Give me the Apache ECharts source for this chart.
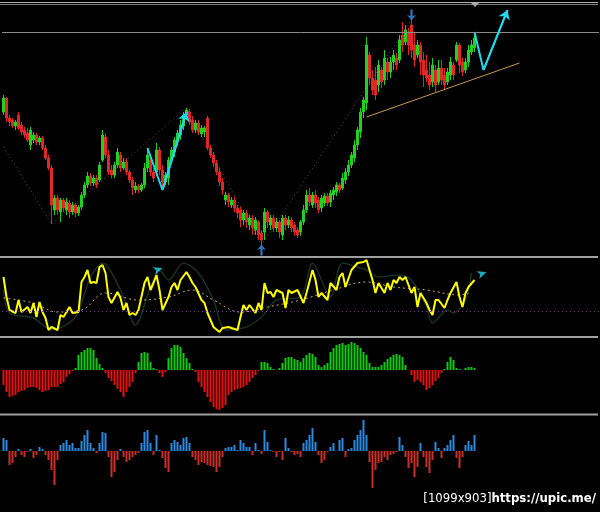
<!DOCTYPE html>
<html><head><meta charset="utf-8">
<script src="https://cdn.jsdelivr.net/npm/echarts@6/dist/echarts.min.js"></script>
<style>html,body{margin:0;padding:0;background:#000}#c{width:600px;height:512px}</style>
</head><body><div id="c"></div>
<script>
// ---------- DATA ----------
const categories = Array.from({length: 199}, (_, i) => String(i));

const open = [
 143,157,137,135,129,140,130,125,122,110,
 115,120,113,117,107,97,87,45,57,43,
 55,45,52,43,50,42,48,60,70,79,
 72,77,75,95,118,100,85,80,90,100,
 87,93,83,75,65,69,65,70,87,95,
 83,83,105,85,73,77,95,103,113,120,
 129,140,143,135,125,132,121,123,137,107,
 100,92,83,73,55,60,50,55,47,45,
 35,42,30,37,25,33,22,23,43,30,
 37,27,33,20,37,30,35,30,25,23,
 33,45,60,50,60,55,47,52,59,53,
 60,63,70,67,75,83,90,97,110,123,
 143,152,200,177,175,170,185,175,193,183,
 193,197,195,220,213,223,230,210,200,210,
 195,185,180,173,185,173,187,180,173,180,
 190,195,210,193,185,193,203,207];
const close = [
 157,137,133,129,133,127,123,120,115,125,
 120,113,117,107,97,87,50,57,45,55,
 47,53,43,50,42,48,60,70,79,72,
 77,70,90,120,100,83,80,90,103,87,
 93,83,75,67,69,65,70,87,100,83,
 77,105,85,73,80,95,105,115,122,130,
 140,145,133,125,132,123,127,127,107,100,
 92,83,73,65,60,53,55,47,42,35,
 42,33,37,27,35,20,15,43,33,37,
 27,33,23,37,30,35,27,23,20,33,
 45,60,53,60,52,45,57,59,52,62,
 65,70,65,77,83,90,100,110,125,143,
 155,210,177,165,160,190,173,197,183,193,
 200,190,215,210,225,210,205,195,210,193,
 180,177,170,190,170,187,175,170,183,193,
 180,210,190,183,193,205,210,217];
const low = [
 140,133,129,127,125,125,120,117,113,105,
 112,110,110,105,95,85,31,40,40,33,
 43,40,37,40,38,39,45,57,67,69,
 69,67,73,93,97,80,77,77,87,83,
 85,80,72,60,62,62,63,67,83,79,
 73,79,80,65,70,70,92,98,109,115,
 125,137,130,122,122,120,118,118,105,97,
 88,80,69,60,50,48,47,43,37,28,
 30,27,25,20,20,15,10,15,27,25,
 23,23,17,15,25,27,23,19,17,19,
 30,42,49,47,47,42,43,49,49,48,
 55,59,62,65,71,79,87,93,105,117,
 137,145,170,160,155,163,167,170,175,177,
 185,185,192,203,210,200,197,188,197,180,
 168,173,165,168,163,170,170,165,170,175,
 175,193,182,179,182,188,200,203];
const high = [
 160,158,140,137,135,143,133,128,127,128,
 123,122,119,119,110,100,90,60,60,57,
 57,57,55,53,52,50,63,73,83,82,
 80,80,93,125,122,105,90,93,107,103,
 97,97,85,78,73,71,72,92,105,98,
 87,112,108,90,83,98,108,118,125,135,
 143,147,146,139,135,135,130,129,139,110,
 103,95,87,77,63,62,58,58,50,48,
 45,45,40,40,38,35,25,47,45,40,
 40,37,35,40,40,39,38,33,28,35,
 50,65,67,63,65,58,60,62,62,65,
 68,73,72,82,87,95,103,115,128,147,
 158,218,203,185,188,195,188,205,197,198,
 205,202,220,233,230,227,235,222,215,213,
 203,200,193,197,190,195,195,187,187,198,
 193,213,212,197,197,210,215,223];

const priceLine = 223;
const zigzag = [[0,108],[16,31],[61,147],[86,10],[136,235]];
const arrow1 = [[48,107],[53,65],[61,143]];
const arrow2 = [[157,223],[160,185],[168,245]];
const trendLine = [[121,138],[172,192]];
const upSignals = [[86,5]];
const downSignals = [[136,240]];

const oscYellow = [[0,59],[1,39],[2,26],[4,23],[5,36],[6,24],[8,29],[9,23],[10,33],[11,19],[12,34],[13,24],[14,18],[15,6],[16,9],[18,6],[19,21],[20,19],[21,24],[22,29],[23,23],[25,24],[26,54],[27,59],[28,66],[29,53],[30,54],[31,53],[32,69],[33,71],[34,63],[35,39],[36,33],[38,44],[39,38],[40,26],[41,33],[42,21],[43,23],[44,21],[45,26],[47,53],[48,59],[49,46],[50,53],[51,61],[52,46],[53,26],[55,39],[56,49],[57,53],[58,46],[59,56],[61,64],[62,59],[63,53],[64,49],[66,36],[67,33],[68,23],[69,16],[70,9],[72,4],[73,8],[75,9],[78,6],[79,19],[80,31],[81,26],[82,31],[84,23],[85,33],[86,26],[87,53],[88,43],[89,44],[90,39],[91,46],[93,43],[94,28],[95,46],[96,43],[98,46],[100,33],[101,43],[103,66],[104,56],[105,39],[106,43],[108,36],[109,53],[111,46],[112,59],[113,63],[114,49],[116,66],[118,73],[120,74],[121,76],[123,56],[124,43],[125,53],[127,43],[128,53],[129,46],[130,56],[131,53],[132,59],[133,56],[134,59],[136,43],[137,49],[138,29],[139,43],[140,38],[141,33],[142,26],[143,21],[144,36],[145,36],[147,28],[148,36],[149,43],[151,54],[152,39],[153,29],[154,43],[155,49],[157,56]];
const oscSignal = [[0,46],[2,23],[10,18],[16,6],[24,19],[29,59],[33,73],[39,46],[44,11],[49,49],[52,66],[55,56],[60,73],[65,63],[70,36],[74,6],[81,9],[86,19],[91,36],[99,39],[103,73],[109,39],[113,73],[119,68],[121,66],[125,59],[132,61],[136,56],[141,29],[143,13],[148,26],[150,23],[154,36],[156,63]];
const oscMA = [[0,38],[10,33],[18,24],[26,26],[34,43],[45,36],[55,39],[63,46],[70,36],[79,24],[88,29],[99,36],[110,46],[121,54],[130,49],[141,46],[152,41],[155,43]];
const oscLevel = 25;
const oscFlags = [[53,68],[161,64]];

const histA = [
 -15,-22,-27,-26,-25,-22,-21,-20,-18,-17,
 -17,-18,-20,-22,-21,-20,-17,-17,-17,-14,
 -12,-7,-4,-1,2,15,18,20,22,22,
 20,12,6,2,-3,-8,-11,-15,-19,-22,
 -27,-22,-17,-12,-3,8,17,18,17,8,
 2,1,-3,-7,-2,12,22,25,25,23,
 17,12,7,1,-2,-12,-17,-22,-27,-32,
 -37,-39,-40,-38,-35,-25,-22,-20,-19,-18,
 -17,-15,-12,-8,-5,-1,8,8,7,3,
 1,0,2,7,12,13,13,11,10,8,
 12,15,17,16,13,5,3,5,7,18,
 22,25,26,27,25,26,28,27,25,22,
 18,15,7,3,3,3,5,8,11,13,
 15,16,15,13,5,0,-5,-12,-10,-12,
 -15,-20,-18,-15,-11,-8,-3,1,8,13,
 10,2,1,0,2,3,3,2];
const histB = [
 13,11,-14,-12,-6,2,-4,-6,-1,2,
 -7,-4,4,2,-4,-9,-19,-34,-9,6,
 8,11,6,8,3,3,10,16,21,8,
 3,-2,8,19,18,-6,-26,-21,-9,2,
 -6,-11,-9,-6,-4,-2,8,19,21,8,
 -4,16,1,-7,-17,-21,8,11,9,6,
 13,14,8,-6,-9,-14,-11,-12,-14,-15,
 -16,-21,-16,-6,3,4,4,6,1,11,
 8,4,4,-4,8,1,-3,21,9,1,
 -1,-6,-1,-9,13,3,-1,-4,-3,-6,
 8,11,16,23,9,-4,-12,-9,-1,4,
 8,0,11,13,-6,2,3,11,16,21,
 31,16,-11,-37,-19,-12,-11,-6,-9,-4,
 -3,-1,14,6,-6,-17,-12,-26,-16,8,
 -6,-16,-22,-9,9,3,-7,3,6,11,
 16,-7,-17,-6,6,10,6,16];

// ---------- CHART ----------
const H = {show:false};
function xAx(g){return {type:'category',gridIndex:g,data:categories,boundaryGap:true,axisLine:H,axisTick:H,axisLabel:H,splitLine:H};}
function yAx(g,min,max){return {type:'value',gridIndex:g,min:min,max:max,axisLine:H,axisTick:H,axisLabel:H,splitLine:H};}
const CYAN = '#20d8ea';
const arrowPath = 'path://M3,0 L5,0 L5,6 L8,5 L4,10 L0,5 L3,6 Z';

const chart = echarts.init(document.getElementById('c'), null, {renderer:'canvas'});
chart.setOption({
  backgroundColor:'#000',
  animation:false,
  grid:[
    {left:2,right:1,top:5,height:250},
    {left:2,right:1,top:258,height:78},
    {left:2,right:1,top:338,height:75},
    {left:2,right:1,top:416,height:80}
  ],
  xAxis:[xAx(0),xAx(1),xAx(2),xAx(3)],
  yAxis:[yAx(0,0,250),yAx(1,0,78),yAx(2,-43,32),yAx(3,-45,35)],
  series:[
    {type:'line',xAxisIndex:0,yAxisIndex:0,data:zigzag,symbol:'none',
     lineStyle:{color:'#6a5640',width:1,type:[1,3]},z:1},
    {type:'candlestick',xAxisIndex:0,yAxisIndex:0,barWidth:2,
     data:open.map((o,i)=>[o,close[i],low[i],high[i]]),
     itemStyle:{color:'#22d022',color0:'#e02828',borderColor:'#22d022',borderColor0:'#e02828',borderWidth:1},
     markLine:{silent:true,symbol:'none',label:H,lineStyle:{color:'#8a8a8a',width:1,type:'solid'},data:[{yAxis:priceLine}]},
     z:2},
    {type:'line',xAxisIndex:0,yAxisIndex:0,data:trendLine,symbol:'none',
     lineStyle:{color:'#c89a55',width:1},z:3},
    {type:'line',xAxisIndex:0,yAxisIndex:0,data:arrow1,symbol:'none',
     lineStyle:{color:CYAN,width:2},z:4,
     markLine:{silent:true,symbol:['none','arrow'],symbolSize:9,label:H,
       lineStyle:{color:CYAN,width:2,type:'solid'},data:[[{coord:arrow1[1]},{coord:arrow1[2]}]]}},
    {type:'line',xAxisIndex:0,yAxisIndex:0,data:arrow2,symbol:'none',
     lineStyle:{color:CYAN,width:2},z:4,
     markLine:{silent:true,symbol:['none','arrow'],symbolSize:9,label:H,
       lineStyle:{color:CYAN,width:2,type:'solid'},data:[[{coord:arrow2[1]},{coord:arrow2[2]}]]}},
    {type:'scatter',xAxisIndex:0,yAxisIndex:0,data:downSignals,symbol:arrowPath,symbolSize:[9,11],
     itemStyle:{color:'#3d8fe6'},z:5},
    {type:'scatter',xAxisIndex:0,yAxisIndex:0,data:upSignals,symbol:arrowPath,symbolSize:[9,11],symbolRotate:180,
     itemStyle:{color:'#3d8fe6'},z:5},

    {type:'line',xAxisIndex:1,yAxisIndex:1,data:oscSignal,symbol:'none',smooth:0.3,
     lineStyle:{color:'#1a3020',width:1.5},z:1},
    {type:'line',xAxisIndex:1,yAxisIndex:1,data:oscMA,symbol:'none',smooth:0.4,
     lineStyle:{color:'#c9a878',width:1,type:[2,3]},z:2,
     markLine:{silent:true,symbol:'none',label:H,lineStyle:{color:'#7a3a8e',width:1,type:[1,3]},data:[{yAxis:oscLevel}]}},
    {type:'line',xAxisIndex:1,yAxisIndex:1,data:oscYellow,symbol:'none',
     lineStyle:{color:'#ffff00',width:2},z:3},
    {type:'scatter',xAxisIndex:1,yAxisIndex:1,data:oscFlags,symbol:'arrow',symbolSize:[6,9],symbolRotate:-70,
     itemStyle:{color:CYAN},z:4},

    {type:'bar',xAxisIndex:2,yAxisIndex:2,data:histA,barWidth:2,
     itemStyle:{color:p=>p.value>=0?'#16c816':'#e01212'}},
    {type:'bar',xAxisIndex:3,yAxisIndex:3,data:histB,barWidth:2,
     itemStyle:{color:p=>p.value>=0?'#2f88dc':'#c8302a'}}
  ],
  graphic:[
    {type:'line',shape:{x1:0,y1:2.5,x2:598,y2:2.5},style:{stroke:'#b0b0b0',lineWidth:1},silent:true},
    {type:'line',shape:{x1:0,y1:4.5,x2:598,y2:4.5},style:{stroke:'#7a7a7a',lineWidth:1},silent:true},
    {type:'polygon',shape:{points:[[471,3],[479,3],[475,7]]},style:{fill:'#a8a8a8'},silent:true},
    {type:'line',shape:{x1:0,y1:257,x2:598,y2:257},style:{stroke:'#a0a0a0',lineWidth:2},silent:true},
    {type:'line',shape:{x1:0,y1:337,x2:598,y2:337},style:{stroke:'#a0a0a0',lineWidth:2},silent:true},
    {type:'line',shape:{x1:0,y1:414.5,x2:598,y2:414.5},style:{stroke:'#a0a0a0',lineWidth:2},silent:true},
    {type:'text',right:4,top:492,silent:true,
     style:{text:'{a|[1099x903]}{b|https://upic.me/}',
       rich:{a:{fill:'#ffffff',fontSize:13,fontFamily:'Liberation Sans Narrow, DejaVu Sans Condensed, Liberation Sans'},
             b:{fill:'#ffffff',fontSize:13,fontWeight:'bold',fontFamily:'Liberation Sans Narrow, DejaVu Sans Condensed, Liberation Sans'}}}}
  ]
});
</script></body></html>
